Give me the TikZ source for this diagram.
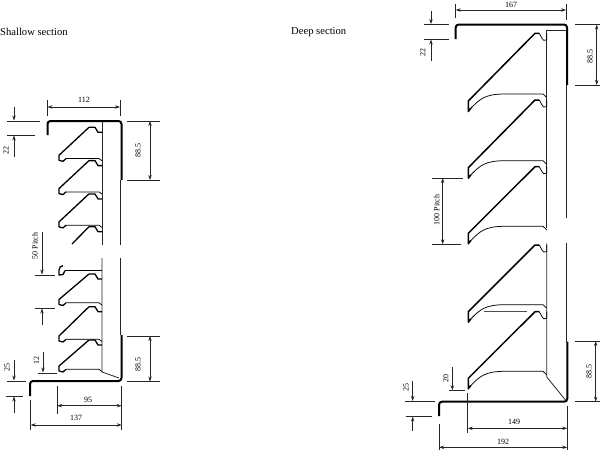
\documentclass[tikz,border=0pt]{standalone}
\usepackage{fontspec}
\setmainfont{Liberation Serif}
\usetikzlibrary{arrows.meta}
\tikzset{
  thick wall/.style={line width=2pt,line join=round,line cap=butt,rounded corners=3pt},
  thin wall/.style={line width=0.8pt,black!85},
  louvre/.style={line width=1.3pt,line join=round},
  deep louvre/.style={line width=1.5pt,line join=round},
  louvre thin/.style={line width=0.75pt,line join=round},
  ext/.style={line width=0.65pt,black!85},
  dimline/.style={line width=0.65pt,black!85,{Stealth[length=5pt,width=3.4pt]}-{Stealth[length=5pt,width=3.4pt]}},
  lead/.style={line width=0.75pt,black!85,-{Stealth[length=5pt,width=3.4pt]}},
  dimtext/.style={font=\fontsize{8}{9}\selectfont,inner sep=0pt},
  title/.style={font=\fontsize{10.6}{12}\selectfont,inner sep=0pt,anchor=west}
}
\newcommand{\slblade}[3]{%
  \begin{scope}[shift={(#1,#2)}]
    \draw[louvre] (0,0) -- (-30,#3+0) -- (-30,#3+5) -- (-26,#3+6) -- (-23,#3+3.3);
    \draw[louvre thin] (-23,#3+3.3) -- (10,#3+3.3) -- (13,#3+5.5);
    \draw[louvre] (0,0) -- (6,0) -- (9,5) -- (13,5);
  \end{scope}}
\newcommand{\dpblade}[2]{%
  \begin{scope}[shift={(535,#1)}]
    \draw[louvre thin] (11.7,0) -- (11.7,6.5) .. controls (9,8) and (8,7) .. (7,5) -- (4.3,0);
    \draw[deep louvre] (4.3,0) -- (0,0) -- (-66.7,#2) -- (-66.7,#2+10.5) -- (-64,#2+7);
    \draw[louvre thin] (-64,#2+7) .. controls (-55,#2-2) and (-50,#2-7) .. (-30,#2-7) -- (8,#2-7) -- (11.7,#2-3.5);
  \end{scope}}
\begin{document}
\begin{tikzpicture}[x=1pt,y=-1pt]
\useasboundingbox (0,0) rectangle (600,450);
\node[title] (t1) at (0,32) {Shallow section};
\node[title] (t2) at (291,32) {Deep section};

% ===== shallow =====
\draw[thin wall] (120.5,180) -- (120.5,245);
\draw[thin wall] (120.5,258) -- (120.5,335);
\draw[thin wall] (102,122) -- (102,245);
\draw[thin wall] (102,258) -- (102,372) -- (119,378);
\draw[thick wall] (47.5,135) -- (47.5,121) -- (121.5,121) -- (121.5,180);
\draw[thick wall] (30,396) -- (30,381) -- (121.5,381) -- (121.5,335);

\slblade{89}{127.3}{28}
\slblade{89}{160.6}{28}
\slblade{89}{193.9}{28}
\draw[louvre] (72,244) -- (89,226.7) -- (95,226.7) -- (98,231.7) -- (102,231.7);
\draw[louvre] (63,265.7) .. controls (61,266) and (59,267) .. (59,270) -- (59,275) -- (63,274.5) -- (65,270.7);
\draw[louvre thin] (65,270.7) -- (102,270.7);
\slblade{89}{274}{25.5}
\slblade{89}{306.7}{29.3}
\slblade{89}{340}{26}
\draw[line width=0.7pt,black!75] (68,339.5) -- (90,339.5);

% dims shallow
\draw[ext] (47.5,100) -- (47.5,116);
\draw[ext] (120,100) -- (120,116);
\draw[dimline] (47.5,107) -- (120,107);
\node[dimtext] (s112) at (84,100) {112};

\draw[ext] (7,121) -- (40,121);
\draw[ext] (7,135) -- (35,135);
\draw[lead] (14,107) -- (14,120.5);
\draw[lead] (14,157) -- (14,135.5);
\node[dimtext,rotate=90] (s22) at (6,150) {22};

\draw[ext] (127,121) -- (160,121);
\draw[ext] (127,180) -- (160,180);
\draw[dimline] (150,121) -- (150,180);
\node[dimtext,rotate=90] (s885a) at (138,150) {88.5};

\draw[lead] (42,232) -- (42,274.5);
\node[dimtext,rotate=90] (s50) at (35,246) {50 Pitch};
\draw[ext] (35,275) -- (55,275);
\draw[ext] (35,308) -- (55,308);
\draw[lead] (42,325) -- (42,308.5);

\draw[lead] (43,352) -- (43,372.5);
\draw[ext] (38,373) -- (57,373);
\node[dimtext,rotate=90] (s12) at (36.5,360) {12};

\draw[ext] (127,336) -- (160,336);
\draw[ext] (127,381.5) -- (160,381.5);
\draw[dimline] (150,336) -- (150,381.5);
\node[dimtext,rotate=90] (s885b) at (138,364) {88.5};

\draw[lead] (14,360) -- (14,380.5);
\draw[ext] (7,381) -- (26,381);
\draw[ext] (6,396) -- (23,396);
\draw[lead] (14,413) -- (14,396.5);
\node[dimtext,rotate=90] (s25) at (7,367) {25};

\draw[ext] (57,386) -- (57,414);
\draw[ext] (121.7,386) -- (121.7,430);
\draw[dimline] (57,405.7) -- (121.7,405.7);
\node[dimtext] (s95) at (88,400) {95};
\draw[ext] (30.7,400) -- (30.7,430);
\draw[dimline] (30.7,425) -- (121.7,425);
\node[dimtext] (s137) at (76,418) {137};

% ===== deep =====
\draw[thin wall] (566,30.7) -- (546.7,30.7) -- (546.7,228);
\draw[thin wall] (565.9,85) -- (565.9,218);
\draw[thin wall] (546.7,243.3) -- (546.7,377) -- (566,400.7);
\draw[thin wall] (566.7,243) -- (566.7,342);
\draw[thick wall] (455.7,39) -- (455.7,24.5) -- (567,24.5) -- (567,85);
\draw[thick wall] (439,416) -- (439,401.7) -- (567.3,401.7) -- (567.3,341.7);

\dpblade{33.3}{67.7}
\dpblade{100}{67.7}
\dpblade{166.7}{66.6}
\dpblade{245}{66.7}
\dpblade{311.7}{66.6}
\draw[line width=0.8pt,black!70] (484,311.7) -- (527,311.7);

% dims deep
\draw[ext] (455.7,4) -- (455.7,18);
\draw[ext] (566,4) -- (566,20);
\draw[dimline] (455.7,10) -- (566,10);
\node[dimtext] (d167) at (511,5) {167};

\draw[ext] (424,24.5) -- (449,24.5);
\draw[ext] (424,39) -- (449,39);
\draw[lead] (431,11) -- (431,24);
\draw[lead] (431,60.7) -- (431,39.5);
\node[dimtext,rotate=90] (d22) at (422.7,52.7) {22};

\draw[ext] (575,24.5) -- (600,24.5);
\draw[ext] (575,85) -- (600,85);
\draw[dimline] (596.7,24.5) -- (596.7,85);
\node[dimtext,rotate=90] (d885a) at (590,56.7) {88.5};

\draw[ext] (432,178) -- (463,178);
\draw[ext] (432,244.3) -- (460.7,244.3);
\draw[dimline] (442.7,178) -- (442.7,244.3);
\node[dimtext,rotate=90] (d100) at (436.7,210) {100 Pitch};

\draw[ext] (575,341) -- (600,341);
\draw[ext] (575,401.7) -- (600,401.7);
\draw[dimline] (595.7,341) -- (595.7,401.7);
\node[dimtext,rotate=90] (d885b) at (589,371.7) {88.5};

\draw[lead] (452.3,366.7) -- (452.3,390.3);
\draw[ext] (449,390.7) -- (465,390.7);
\node[dimtext,rotate=90] (d20) at (445.7,378.3) {20};

\draw[lead] (412.7,380.7) -- (412.7,401);
\draw[ext] (405,401.7) -- (435,401.7);
\draw[ext] (405.7,416) -- (431.7,416);
\draw[lead] (412.7,430.7) -- (412.7,416.5);
\node[dimtext,rotate=90] (d25) at (406,387) {25};

\draw[ext] (467.7,393) -- (467.7,433);
\draw[ext] (567.3,406) -- (567.3,450);
\draw[dimline] (467.7,428.3) -- (567.3,428.3);
\node[dimtext] (d149) at (514,421.7) {149};
\draw[ext] (439,424) -- (439,450);
\draw[dimline] (439,447.3) -- (567.3,447.3);
\node[dimtext] (d192) at (503,441.7) {192};
\end{tikzpicture}
\end{document}
